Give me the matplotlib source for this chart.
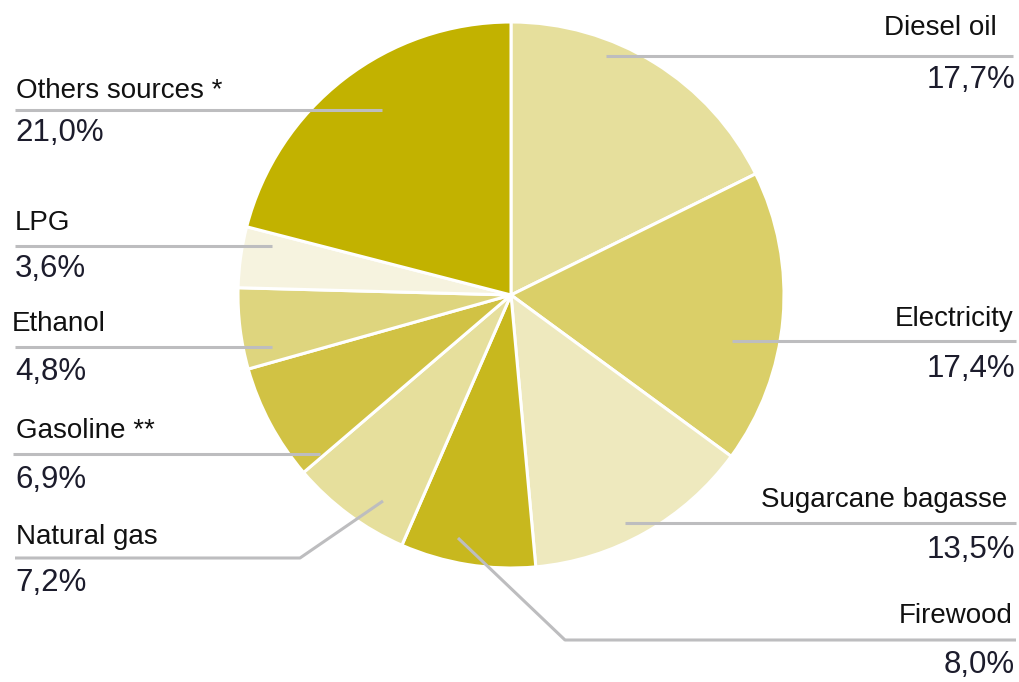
import matplotlib.pyplot as plt
from matplotlib.patches import Wedge

# Final energy consumption by source (%)
sources = ['Diesel oil', 'Electricity', 'Sugarcane bagasse', 'Firewood', 'Natural gas',
           'Gasoline **', 'Ethanol', 'LPG', 'Others sources *']
shares = [17.7, 17.4, 13.5, 8.0, 7.2, 6.9, 4.8, 3.6, 21.0]
share_labels = ['17,7%', '17,4%', '13,5%', '8,0%', '7,2%', '6,9%', '4,8%', '3,6%', '21,0%']
colors = ['#E6DF9C', '#DACF68', '#EEE9BE', '#C8B81E', '#E6DF9C',
          '#D1C244', '#DED57E', '#F6F3DF', '#C2B200']

W, H = 1019, 682
cx, cy, r = 511, 295, 273

fig = plt.figure(figsize=(W / 100, H / 100), dpi=100)
ax = fig.add_axes([0, 0, 1, 1])
ax.set_xlim(0, W)
ax.set_ylim(H, 0)
ax.axis('off')

# slices go clockwise from 12 o'clock; y axis is flipped so angles run the other way
start = -90.0
total = sum(shares)
for val, col in zip(shares, colors):
    sweep = 360.0 * val / total
    ax.add_patch(Wedge((cx, cy), r, start, start + sweep, facecolor=col,
                       edgecolor='white', linewidth=2.2))
    start += sweep

line_kw = dict(color='#BDBDBF', lw=2.2, solid_capstyle='butt', zorder=3)
name_kw = dict(fontsize=20, family='Liberation Sans', color='#111111', va='center')
pct_kw = dict(fontsize=22.5, family='Liberation Sans', color='#1c1c2c', va='center')

# leader lines: (points of the polyline), name x, value x, alignment, name y, value y
leaders = {
    'Diesel oil': ([(606, 56), (1013, 56)], 997, 1015, 'right', 28, 80),
    'Electricity': ([(732, 341), (1016, 341)], 1014, 1015, 'right', 319, 369),
    'Sugarcane bagasse': ([(625, 523), (1016, 523)], 1007, 1015, 'right', 500, 550),
    'Firewood': ([(458, 538), (565, 640), (1016, 640)], 1013, 1015, 'right', 616, 665),
    'Natural gas': ([(383, 501), (300, 558), (15, 558)], 16, 15, 'left', 537, 583),
    'Gasoline **': ([(320, 454), (13, 454)], 16, 15, 'left', 431, 480),
    'Ethanol': ([(272, 347), (15, 347)], 12, 15, 'left', 324, 372),
    'LPG': ([(272, 246), (15, 246)], 15, 15, 'left', 223, 269),
    'Others sources *': ([(382, 110), (15, 110)], 16, 15, 'left', 91, 133),
}

for name, pct in zip(sources, share_labels):
    pts, nx, px, ha, ny, py = leaders[name]
    ax.plot([p[0] for p in pts], [p[1] for p in pts], **line_kw)
    ax.text(nx, ny, name, ha=ha, **name_kw)
    ax.text(px, py, pct, ha=ha, **pct_kw)

fig.savefig('out.png', dpi=100)
